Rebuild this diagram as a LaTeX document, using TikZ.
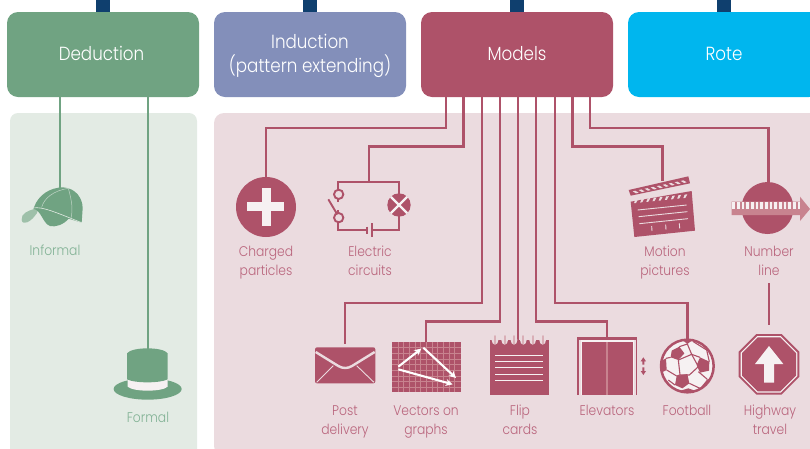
\documentclass[tikz,border=0pt]{standalone}
\usepackage{fontspec}
\usetikzlibrary{arrows.meta}
\setmainfont{Poppins}[UprightFont=* Light,FakeStretch=0.88]
\definecolor{gbox}{HTML}{70A382}
\definecolor{glabel}{HTML}{82B295}
\definecolor{gpanel}{HTML}{E3EBE4}
\definecolor{ppanel}{HTML}{EBDBDF}
\definecolor{pdark}{HTML}{AE5269}
\definecolor{plabel}{HTML}{B9647C}
\definecolor{plight}{HTML}{C8838F}
\definecolor{bbox}{HTML}{838FBA}
\definecolor{cbox}{HTML}{00B6EE}
\definecolor{navy}{HTML}{0F3F6E}
\definecolor{pale}{HTML}{F6F1F2}
\tikzset{
 headbox/.style={rounded corners=11pt,inner sep=0pt,minimum height=85pt,text=white,align=center,font=\fontsize{19}{24}\selectfont},
 tab/.style={fill=navy,draw=none},
 conn/.style={draw=pdark,line width=2.4pt},
 gconn/.style={draw=gbox,line width=2.4pt},
 plab/.style={text=plabel,align=center,inner sep=0pt,font=\fontsize{14}{19}\selectfont},
 glab/.style={text=glabel,align=center,inner sep=0pt,font=\fontsize{14}{19}\selectfont},
 zm/.style={x=0.33333pt,y=-0.33333pt},
}
\begin{document}
\begin{tikzpicture}[x=1pt,y=-1pt]
\useasboundingbox (0,0) rectangle (810,448);
\clip (0,0) rectangle (810,448);
% tabs
\foreach \tx in {96,303,510,717} \fill[tab] (\tx,0) rectangle (\tx+14,14);
% panels
\fill[gpanel,rounded corners=8pt] (10,113) rectangle (197,470);
\fill[ppanel,rounded corners=10pt] (214,113) rectangle (840,456);
% header boxes
\path[headbox,fill=gbox] (7,12) rectangle (199,97);
\path[headbox,fill=bbox] (214,12) rectangle (406,97);
\path[headbox,fill=pdark] (421,12) rectangle (613,97);
\path[headbox,fill=cbox] (628,12) rectangle (820,97);
\node[headbox,minimum height=0pt] (deduction) at (101.5,53) {Deduction};
\node[headbox,minimum height=0pt] (induction) at (310,56) {Induction\\(pattern extending)};
\node[headbox,minimum height=0pt] (models) at (517,53.5) {Models};
\node[headbox,minimum height=0pt] (rote) at (724,54) {Rote};
% attach points
\foreach \n/\mx in {m1/446,m2/463.5,m3/482,m4/500,m5/518,m6/536,m7/555,m8/572.5,m9/590}
  \coordinate (\n) at (\mx,96);
\coordinate (d1) at (60,96);
\coordinate (d2) at (148,96);
\coordinate (capTop) at (60,189);
\coordinate (hatTop) at (148,350);
\coordinate (circuitTop) at (369,182);
\coordinate (clapTop) at (662.5,181);
\coordinate (envTop) at (345,344);
\coordinate (graphTop) at (426,343);
\coordinate (flipTop) at (518,341);
\coordinate (elevTop) at (607,338);
\coordinate (ballTop) at (687.5,341);
\coordinate (lineBottom) at (769,283);
\coordinate (octTop) at (769,325);
% icon anchors with circles
\node[circle,fill=pdark,inner sep=0pt,minimum size=60pt] (charged) at (266,207) {};
\node[circle,fill=pdark,inner sep=0pt,minimum size=52pt] (numline) at (767.5,208) {};
% connectors
\draw[gconn] (d1) -- (capTop);
\draw[gconn] (d2) -- (hatTop);
\draw[conn] (m1) -- (446,128) -- (266,128) -- (charged.north);
\draw[conn] (m2) -- (463.5,146.5) -- (369,146.5) -- (circuitTop);
\draw[conn] (m3) -- (482,303) -- (345,303) -- (envTop);
\draw[conn] (m4) -- (500,321.5) -- (426,321.5) -- (graphTop);
\draw[conn] (m5) -- (flipTop);
\draw[conn] (m6) -- (536,321.5) -- (607,321.5) -- (elevTop);
\draw[conn] (m7) -- (555,303) -- (687.5,303) -- (ballTop);
\draw[conn] (m8) -- (572.5,146.5) -- (662.5,146.5) -- (clapTop);
\draw[conn] (m9) -- (590,128) -- (768.5,128) -- (768.5,184);
\draw[conn] (lineBottom) -- (octTop);
% charged
\fill[pale] (247,202) rectangle (284,211);
\fill[pale] (262,188) rectangle (270.5,226);
% circuit
\begin{scope}[shift={(220,170)},zm]
\draw[draw=pdark,line width=1.9pt] (355,95)--(355,36)--(538,36)--(538,180)--(457,180);
\draw[draw=pdark,line width=1.9pt] (355,120)--(355,180)--(440,180);
\draw[draw=pdark,line width=1.9pt,fill=ppanel] (356,73) circle (14);
\draw[draw=pdark,line width=1.9pt,fill=ppanel] (356,143) circle (14);
\draw[draw=pdark,line width=1.9pt] (325,88)--(350,130);
\draw[draw=pdark,line width=2pt] (441,170)--(441,191);
\draw[draw=pdark,line width=2pt] (457,160)--(457,202);
\fill[pdark] (537,105) circle (35);
\begin{scope}
\clip (537,105) circle (35);
\draw[pale,line width=2.2pt] (510,78)--(564,132) (564,78)--(510,132);
\end{scope}
\end{scope}
% cap
\begin{scope}[shift={(0,170)},zm]
\fill[gbox!60!gpanel] (65,150) .. controls (62,130) and (85,122) .. (105,116) .. controls (118,118) and (112,130) .. (105,137) .. controls (92,155) and (68,168) .. (65,150) -- cycle;
\fill[gbox] (102,112) .. controls (115,75) and (150,52) .. (190,52) .. controls (228,55) and (248,85) .. (248,115) -- (245,158) -- (206,146) .. controls (190,165) and (165,172) .. (150,168) .. controls (128,160) and (125,122) .. (100,116) -- cycle;
\draw[gpanel,line width=0.6pt] (100,114) .. controls (125,108) and (175,130) .. (245,158);
\draw[gpanel!70!gbox,line width=0.5pt] (125,112) .. controls (132,85) and (160,62) .. (205,55) .. controls (215,90) and (220,120) .. (212,148);
\end{scope}
% top hat
\begin{scope}[shift={(0,170)},zm]
\fill[gbox] (443,657) ellipse [x radius=102,y radius=32];
\fill[pale] (383,620) -- (383,650) .. controls (400,666) and (486,666) .. (503,650) -- (503,620) -- cycle;
\fill[gbox] (381,550) .. controls (395,530) and (490,530) .. (503,550) -- (503,628) .. controls (480,640) and (405,640) .. (381,628) -- cycle;
\end{scope}
% clapper
\begin{scope}[shift={(610,160)},zm]
\fill[pdark] (62,125) -- (245,93) -- (255,212) -- (73,231) -- cycle;
\fill[pdark] (56,90) -- (235,49) -- (240,70) -- (62,107) -- cycle;
\foreach \i in {0,...,8} {
  \fill[ppanel] ({68+\i*18},{94-\i*3.9}) -- ({76+\i*18},{92.2-\i*3.9}) -- ({86+\i*18},{98-\i*3.9}) -- ({78+\i*18},{100-\i*3.9}) -- cycle;
  \fill[ppanel] ({76+\i*18.5},{119-\i*1.9}) -- ({84+\i*18.5},{118-\i*1.9}) -- ({78+\i*18.5},{129-\i*1.9}) -- ({72+\i*18.5},{129.5-\i*1.9}) -- cycle;
}
\draw[ppanel,line width=0.9pt] (83,150)--(230,135) (86,170)--(232,155) (88,191)--(234,176);
\draw[ppanel,line width=0.9pt] (125,198)--(126,213) (167,194)--(168,209) (208,190)--(209,205);
\end{scope}
% number line arrow
\begin{scope}[shift={(610,160)},zm]
\fill[plight] (365,125) -- (570,125) -- (570,110) -- (600,147) -- (570,183) -- (570,165) -- (365,165) -- cycle;
\foreach \i in {0,...,14} \fill[pale] ({367+\i*14},127) rectangle ({375+\i*14},147);
\end{scope}
% envelope
\begin{scope}[shift={(300,320)},zm]
\fill[pdark,rounded corners=2pt] (45,82) rectangle (226,190);
\draw[ppanel,line width=2.4pt] (47,96) -- (115,138) .. controls (128,146) and (143,146) .. (156,138) -- (224,96);
\draw[ppanel,line width=0.9pt] (50,187)--(100,137) (222,187)--(170,137);
\end{scope}
% graph
\begin{scope}[shift={(300,320)},zm]
\fill[pdark] (277,67) rectangle (483,215);
\foreach \gx in {294,311,...,480} \draw[plight,line width=0.5pt] (\gx,67)--(\gx,215);
\foreach \gy in {83,100,...,212} \draw[plight,line width=0.5pt] (277,\gy)--(483,\gy);
\draw[white,line width=2.1pt,-{Stealth[length=7pt,width=7pt]}] (295,140)--(364,86);
\draw[white,line width=2.1pt,-{Stealth[length=7pt,width=7pt]}] (370,83)--(468,174);
\draw[white,line width=2.1pt,-{Stealth[length=7pt,width=7pt]}] (295,148)--(458,193);
\end{scope}
% flip cards
\begin{scope}[shift={(470,320)},zm]
\fill[pdark] (60,60) rectangle (237,225);
\foreach \rx in {75,104,132,160,188,218} {
  \fill[ppanel] (\rx,60) ellipse [x radius=10,y radius=14];
  \draw[line cap=round,plight!60!pale,line width=1.8pt] (\rx,48)--(\rx,70);
}
\foreach \ly in {105,124,143,162,181} \draw[pale,line width=0.9pt] (75,\ly)--(218,\ly);
\end{scope}
% elevator
\begin{scope}[shift={(470,320)},zm]
\fill[pdark] (321,52) rectangle (502,225);
\fill[ppanel] (328,60) rectangle (497,225);
\fill[pale] (333,61) rectangle (493,225);
\fill[pdark] (336,65) rectangle (490,225);
\fill[plight] (409,65) rectangle (413,225);
\fill[pdark] (520,112) -- (528,124) -- (523,124) -- (523,134) -- (517,134) -- (517,124) -- (512,124) -- cycle;
\fill[pdark] (520,165) -- (528,153) -- (523,153) -- (523,142) -- (517,142) -- (517,153) -- (512,153) -- cycle;
\end{scope}
% football
\begin{scope}[shift={(650,320)},zm]
\draw[pdark,line width=2.5pt,fill=pale] (112,138) circle (79);
\clip (112,138) circle (79);
\fill[pdark] (65,92)--(88,80)--(103,100)--(85,120)--(62,112)--cycle;
\fill[pdark] (150,112)--(178,125)--(177,152)--(150,158)--(140,135)--cycle;
\fill[pdark] (80,168)--(112,162)--(118,190)--(97,205)--(75,195)--cycle;
\fill[pdark] (95,58)--(130,58)--(112,72)--cycle;
\fill[pdark] (30,125)--(48,115)--(50,150)--(30,160)--cycle;
\fill[pdark] (85,214)--(140,214)--(115,205)--cycle;
\fill[pdark] (195,175)--(172,178)--(150,205)--cycle;
\draw[pdark,line width=1.1pt] (85,120)--(125,103)--(145,140)--(118,165)--(90,165)--cycle;
\draw[pdark,line width=1.1pt] (125,103)--(150,112) (112,72)--(125,103) (88,80)--(112,72) (130,65)--(170,90)--(178,125) (145,155)--(172,178) (118,190)--(150,205) (48,115)--(62,112) (50,150)--(80,168) (75,195)--(55,180) (90,165)--(80,168);
\end{scope}
% octagon
\begin{scope}[shift={(650,320)},zm]
\def\oct#1{(357-#1,133-0.414*#1)--(357-0.414*#1,133-#1)--(357+0.414*#1,133-#1)--(357+#1,133-0.414*#1)--(357+#1,133+0.414*#1)--(357+0.414*#1,133+#1)--(357-0.414*#1,133+#1)--(357-#1,133+0.414*#1)--cycle}
\fill[pdark] \oct{91};
\fill[pale] \oct{85};
\fill[pdark] \oct{81};
\fill[pale] (357,78)--(400,132)--(372,132)--(372,188)--(342,188)--(342,132)--(315,132)--cycle;
\end{scope}
% labels
\node[glab] (lInformal) at (55,250.5) {Informal};
\node[glab] (lFormal) at (148,417) {Formal};
\node[plab] (lCharged) at (266,262.5) {Charged\\particles};
\node[plab] (lElectric) at (370,261) {Electric\\circuits};
\node[plab] (lMotion) at (665,263) {Motion\\pictures};
\node[plab] (lNumber) at (769,261) {Number\\line};
\node[plab] (lPost) at (345,422) {Post\\delivery};
\node[plab] (lVectors) at (426,421.5) {Vectors on\\graphs};
\node[plab] (lFlip) at (520,420) {Flip\\cards};
\node[plab] (lElev) at (607,410) {Elevators};
\node[plab] (lFoot) at (687,410) {Football};
\node[plab] (lHigh) at (770,420) {Highway\\travel};
\end{tikzpicture}
\end{document}
